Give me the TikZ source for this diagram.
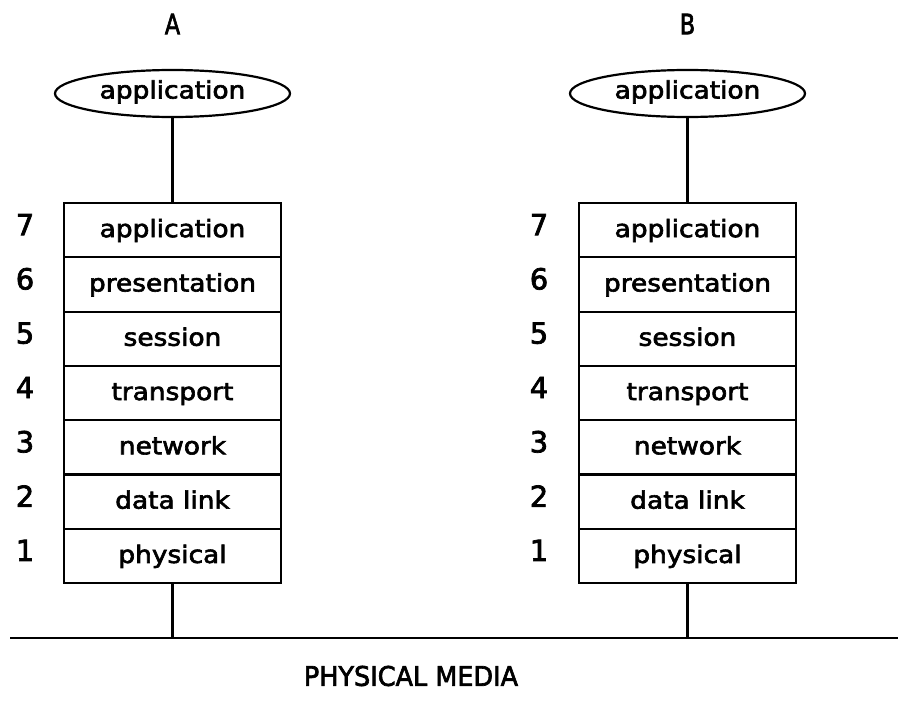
\documentclass[tikz,border=0pt]{standalone}
\usepackage{fontspec}
\usepackage{graphicx}
\setmainfont{DejaVu Sans}[FakeBold=2.5]
\usetikzlibrary{shapes.geometric}
\newcommand\wtxt[1]{\scalebox{1.1}[1]{#1}}
\tikzset{
  x=1pt, y=-1pt,
  link/.style={line width=2.2pt},
  layer/.style={draw, line width=2.2pt, minimum width=217pt, minimum height=54.3pt, inner sep=0pt,
    text height=17pt, text depth=3pt, font=\fontsize{24}{24}\selectfont},
  appl/.style={draw, ellipse, line width=2.2pt, minimum width=235pt, minimum height=47pt, inner sep=0pt,
    text height=13pt, text depth=3pt, font=\fontsize{24}{24}\selectfont},
  num/.style={inner sep=0pt, font=\fontsize{29}{29}\selectfont},
  sysname/.style={inner sep=0pt, font=\fontsize{28}{28}\selectfont},
  media/.style={inner sep=0pt, font=\fontsize{27}{27}\selectfont},
}
\begin{document}
\begin{tikzpicture}
\useasboundingbox (0,0) rectangle (898,717);
\foreach \s/\cx/\nx in {A/172.5/25, B/687.5/539} {
  \node[sysname] (\s-lab) at (\cx,24) {\scalebox{0.8}[1]{\s}};
  \node[appl] (\s-app) at (\cx,93.5) {\wtxt{application}};
  \foreach \i/\t [count=\k from 0] in {7/application,6/presentation,5/session,4/transport,3/network,2/data link,1/physical} {
    \node[layer] (\s\i) at (\cx,{230.15+54.3*\k}) {\wtxt{\t}};
    \node[num] (\s-n\i) at (\nx,{224.6+54.3*\k}) {\i};
  }
  \coordinate (\s-m) at (\cx,638);
  \draw[link] (\s-app) -- (\s7);
  \draw[link] (\s1) -- (\s-m);
}
\coordinate (mL) at (10,638);
\coordinate (mR) at (898,638);
\draw[link] (mL) -- (mR);
\node[media] (medialab) at (411,676) {\scalebox{0.945}[1]{PHYSICAL MEDIA}};
\end{tikzpicture}
\end{document}
